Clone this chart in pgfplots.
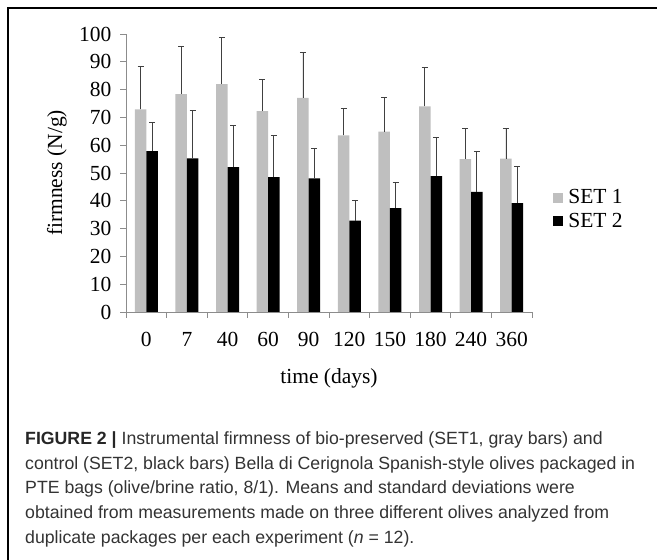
\documentclass[border=0pt]{standalone}
\usepackage{fontspec}
\setmainfont{Liberation Serif}
\newfontfamily\capfont{Liberation Sans}
\usepackage{pgfplots}
\pgfplotsset{compat=1.18}
\usepackage{pgfplotstable}
\definecolor{barg}{HTML}{BFBFBF}
\definecolor{axg}{HTML}{8C8C8C}
\definecolor{errg}{HTML}{404040}
\definecolor{capc}{HTML}{333333}

\pgfplotstableread{
x val err
0 72.9 15.5
1 78.4 17.2
2 82.0 16.8
3 72.3 11.4
4 77.0 16.2
5 63.5 9.7
6 64.9 12.1
7 74.0 13.8
8 55.0 11.1
9 55.2 10.9
}\setone
\pgfplotstableread{
x val err
0 57.9 10.2
1 55.3 17.3
2 52.1 15.1
3 48.5 15.0
4 48.1 10.7
5 32.9 7.3
6 37.4 9.3
7 48.9 14.0
8 43.2 14.7
9 39.2 13.1
}\settwo

\begin{document}
\begin{tikzpicture}
\useasboundingbox (0,0) rectangle (657bp,560bp);
\draw[line width=1.3bp] (8bp,0) -- (8bp,552bp) -- (657bp,552bp);
\begin{axis}[
  at={(126bp,248bp)}, anchor=south west,
  scale only axis, width=406bp, height=278bp,
  ybar=0pt, bar width=11.5bp,
  xmin=-0.5, xmax=9.5, ymin=0, ymax=100,
  axis lines*=left,
  axis line style={axg, line width=0.9bp},
  xtick={0,...,9},
  xticklabels={0,7,40,60,90,120,150,180,240,360},
  minor xtick={-0.5,0.5,...,9.5},
  major x tick style={draw=none},
  minor tick length=6bp,
  ytick={0,10,...,100},
  major tick length=6bp,
  tick align=outside,
  tick style={axg, line width=0.9bp},
  /pgf/number format/assume math mode=true,
  tick label style={font=\fontsize{21.5bp}{25bp}\selectfont},
  xticklabel style={yshift=-11bp},
  yticklabel style={xshift=-5bp},
  label style={font=\fontsize{21.5bp}{25bp}\selectfont},
  xlabel={time (days)},
  ylabel={firmness (N/g)},
  xlabel style={at={(axis description cs:0.5,-0.237)}, anchor=center},
  ylabel style={at={(axis description cs:-0.17,0.5)}, anchor=center},
  legend style={at={(axis description cs:1.052,0.369)}, anchor=west,
    draw=none, fill=none, inner sep=0pt, row sep=6bp, column sep=4bp,
    font=\fontsize{21.5bp}{25bp}\selectfont,
    nodes={inner sep=1bp}},
  legend cell align=left,
  legend image code/.code={\fill[#1] (0bp,-5bp) rectangle (10bp,5bp);},
  error bars/error bar style={errg, line width=0.9bp},
  error bars/error mark options={errg, line width=0.9bp, mark size=3bp, rotate=90},
  clip=false,
]
\addplot[fill=barg, draw=none,
  error bars/.cd, y dir=plus, y explicit]
  table[x=x, y=val, y error=err] {\setone};
\addlegendentry{SET 1}
\addplot[fill=black, draw=none,
  error bars/.cd, y dir=plus, y explicit]
  table[x=x, y=val, y error=err] {\settwo};
\addlegendentry{SET 2}
\end{axis}
\begin{scope}[every node/.style={anchor=base west, inner sep=0pt, text=capc, font=\capfont\fontsize{17.7bp}{21bp}\selectfont}]
\node at (25bp,115bp) {\textbf{\color{black!85}FIGURE 2 |} Instrumental firmness of bio-preserved (SET1, gray bars) and};
\node at (25bp,90.5bp) {control (SET2, black bars) Bella di Cerignola Spanish-style olives packaged in};
\node at (25bp,66bp) {PTE bags (olive/brine ratio, 8/1). Means and standard deviations were};
\node at (25bp,41.5bp) {obtained from measurements made on three different olives analyzed from};
\node at (25bp,17bp) {duplicate packages per each experiment (\textit{n} = 12).};
\end{scope}
\end{tikzpicture}
\end{document}
